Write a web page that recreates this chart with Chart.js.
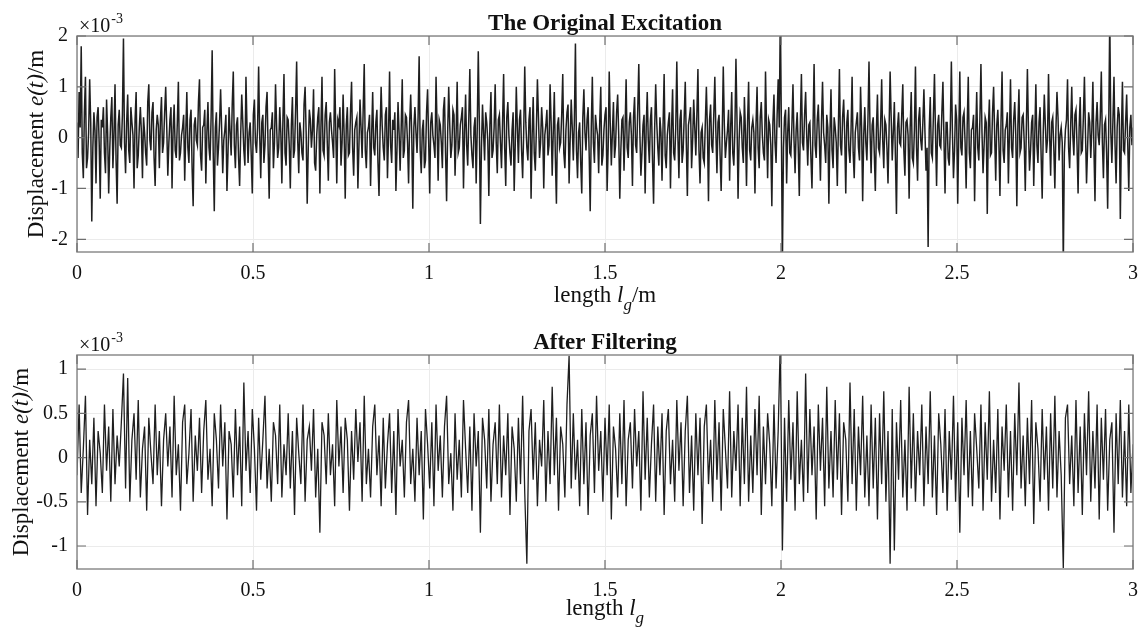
<!DOCTYPE html>
<html>
<head>
<meta charset="utf-8">
<script src="https://cdn.jsdelivr.net/npm/chart.js@4.4.0/dist/chart.umd.min.js"></script>
<style>
html, body { margin: 0; padding: 0; background: #fff; }
#wrap { position: relative; width: 1148px; height: 639px; }
#c1 { position: absolute; left: 0; top: 0; }
#c2 { position: absolute; left: 0; top: 310px; }
</style>
</head>
<body>
<div id="wrap">
  <canvas id="c1" width="1148" height="326"></canvas>
  <canvas id="c2" width="1148" height="329"></canvas>
</div>
<script>
// sample spacing along the track (m)
const STEP_ORIG = 0.003;
const STEP_FILT = 0.006;

const X_TICKS = [0, 0.5, 1, 1.5, 2, 2.5, 3];
const Y_TICKS_TOP = [-2, -1, 0, 1, 2];
const Y_TICKS_BOTTOM = [-1, -0.5, 0, 0.5, 1];

// displacement, x 1e-3 m
const ORIGINAL = [
  0.3, -0.4, 0.9, 0.2, 1.8, -0.3, -0.8, 0.5, 1.2, -0.6, -0.4, 0.1, 1.15, 0.3, -1.65, -0.2, 0.5, 0.15, -0.9, 0.4, 0.6, -0.1, -1.2, 0.35, 0.2, 0.6, -0.3, -0.7, 0.75, 0.1, -1.1, -0.25, 0.4, 0.8, -0.6, 0.05, 1.05, -0.45, -1.3, 0.25,
  0.55, -0.15, -0.2, 0.45, 1.95, -0.1, -0.7, 0.3, 0.85, -0.25, -0.5, 0.6, 0.3, 0.05, -1.0, 0.35, 0.9, -0.6, -0.35, 0.2, 0.6, 0.1, -0.8, 0.4, 0.1, -0.3, -0.55, 0.7, 1.05, -0.05, -0.25, 0.5, 0.7, -0.4, -0.95, 0.15, 0.45, 0.25, -0.6, 0.35,
  0.8, -0.3, -0.1, 0.5, 1.0, 0.2, -0.75, -0.1, 0.35, 0.6, -1.0, 0.15, 0.65, -0.25, -0.4, 0.3, 1.1, -0.45, -0.3, 0.05, 0.2, 0.45, -0.85, 0.1, 0.9, -0.2, -0.5, 0.35, 0.55, -0.6, -1.35, 0.25, 0.4, -0.05, -0.15, 0.7, 1.15, -0.35, -0.65, 0.2,
  0.25, 0.55, -0.9, 0.1, 0.7, -0.2, -0.45, 0.4, 1.72, -0.3, -1.45, 0.2, 0.5, -0.55, -0.2, 0.3, 0.95, 0.15, -0.7, -0.05, 0.15, 0.45, -1.05, -0.3, 0.6, 0.1, -0.35, 0.65, 1.3, -0.15, -0.6, 0.25, 0.4, -0.4, -0.95, 0.05, 0.85, 0.3, -0.25, -0.55,
  1.2, 0.2, -0.5, 0.1, 0.3, -0.35, -1.1, 0.45, 0.75, -0.1, -0.3, 0.2, 1.4, 0.05, -0.8, 0.3, 0.45, -0.5, -0.15, 0.6, 0.9, -0.25, -1.2, 0.15, 0.2, 0.5, -0.6, -0.1, 1.05, 0.25, -0.4, -0.2, 0.6, 0.1, -0.9, 0.35, 1.25, -0.3, -0.55, 0.4,
  0.35, -0.15, -1.0, 0.25, 0.8, -0.4, -0.25, 0.55, 1.5, -0.05, -0.7, 0.3, 0.1, -0.3, -0.45, 0.65, 1.0, 0.1, -1.3, -0.2, 0.55, 0.35, -0.2, 0.15, 0.95, -0.5, -0.65, 0.05, 0.4, 0.6, -1.1, 0.2, 1.2, -0.25, -0.35, 0.45, 0.7, -0.1, -0.85, 0.3,
  0.5, 0.15, -0.1, -0.4, 1.35, 0.2, -0.9, 0.35, 0.25, 0.6, -0.55, -0.1, 0.85, 0.05, -1.2, 0.25, 0.6, -0.35, -0.3, 0.5, 1.1, -0.2, -0.75, 0.15, 0.3, 0.4, -1.0, -0.15, 0.75, 0.2, -0.4, 0.55, 1.45, -0.25, -0.6, 0.1, 0.2, 0.45, -0.95, 0.05,
  0.9, -0.2, -0.35, 0.3, 0.55, -0.5, -1.15, 0.1, 1.0, 0.25, -0.2, -0.45, 0.45, 0.6, -0.8, 0.05, 1.3, -0.15, -0.5, 0.35, 0.15, 0.5, -1.05, -0.25, 0.7, 0.1, -0.65, 0.2, 1.15, -0.4, -0.25, 0.45, 0.4, -0.1, -0.9, 0.3, 0.85, 0.05, -1.4, 0.2,
  0.6, 0.1, -0.3, 0.4, 1.6, -0.25, -0.7, 0.15, 0.35, -0.6, -0.45, 0.5, 0.95, -0.05, -1.1, 0.3, 0.5, 0.05, -0.15, -0.4, 1.2, 0.2, -0.85, 0.35, 0.25, -0.1, -0.6, 0.55, 0.8, -0.3, -1.25, 0.1, 1.0, 0.25, -0.4, -0.15, 0.55, 0.45, -0.75, 0.05,
  1.1, -0.3, -0.2, 0.25, 0.4, 0.6, -1.0, 0.1, 0.85, -0.15, -0.55, 0.35, 1.35, 0.05, -0.35, -0.6, 0.2, 0.4, -0.9, 0.15, 1.7, 0.3, -1.7, -0.2, 0.65, 0.1, -0.45, 0.5, 0.3, -0.05, -1.15, 0.25, 0.9, -0.4, -0.25, 0.2, 1.05, -0.1, -0.7, 0.35,
  0.45, -0.1, -0.6, 0.3, 1.25, -0.2, -0.95, 0.4, 0.7, 0.05, -0.3, -0.55, 0.15, 0.5, -1.05, -0.15, 1.0, 0.2, -0.5, 0.35, 0.55, -0.25, -0.8, 0.1, 1.4, 0.3, -0.2, -0.45, 0.35, 0.6, -1.2, 0.05, 0.8, -0.3, -0.65, 0.15, 1.15, 0.4, -0.4, -0.1,
  0.6, 0.2, -1.0, 0.05, 0.25, 0.55, -0.35, -0.15, 1.05, 0.3, -0.75, 0.1, 0.9, -0.4, -1.3, 0.25, 0.4, -0.2, -0.1, 0.45, 1.25, -0.3, -0.6, 0.15, 0.5, 0.65, -0.9, -0.05, 0.75, 0.2, -0.45, 0.35, 1.85, -0.25, -0.8, 0.1, 0.3, -0.5, -1.1, 0.4,
  0.95, 0.1, -0.25, 0.35, 0.6, -0.3, -1.45, 0.2, 1.2, -0.1, -0.5, 0.45, 0.2, 0.05, -0.7, 0.3, 1.0, -0.55, -0.35, 0.15, 0.45, 0.6, -1.05, -0.2, 1.3, 0.25, -0.55, 0.1, 0.7, -0.4, -0.15, 0.5, 0.85, 0.05, -1.2, -0.25, 0.35, 0.4, -0.65, 0.15,
  1.15, -0.2, -0.4, 0.3, 0.5, 0.05, -0.95, 0.4, 0.8, -0.15, -0.3, 0.55, 1.45, 0.1, -0.75, -0.3, 0.25, 0.45, -1.1, 0.2, 0.9, -0.05, -0.5, 0.35, 0.6, -0.45, -1.3, 0.15, 1.05, 0.3, -0.2, -0.55, 0.4, 0.1, -0.85, 0.25, 1.25, -0.35, -0.6, 0.05,
  0.3, 0.5, -1.0, 0.15, 0.95, -0.3, -0.45, 0.2, 1.5, 0.05, -0.8, 0.35, 0.55, -0.5, -0.25, 0.4, 1.1, -0.1, -1.15, 0.25, 0.4, 0.6, -0.6, -0.05, 0.75, 0.2, -0.35, 0.45, 1.35, -0.25, -0.9, 0.1, 0.2, -0.4, -0.5, 0.3, 1.0, 0.15, -1.25, 0.35,
  0.65, -0.15, -0.3, 0.45, 1.2, 0.1, -0.7, 0.3, 0.45, -0.35, -1.05, 0.05, 1.4, 0.25, -0.4, -0.1, 0.15, 0.55, -0.85, 0.2, 0.9, -0.3, -0.55, 0.15, 1.55, 0.35, -1.2, -0.05, 0.5, 0.4, -0.2, -0.5, 0.8, 0.1, -0.95, 0.3, 1.1, -0.25, -0.45, 0.2,
  0.35, 0.1, -1.1, 0.25, 1.0, -0.2, -0.6, 0.4, 0.7, 0.05, -0.3, -0.45, 1.3, 0.2, -0.8, 0.35, 0.25, -0.15, -1.35, 0.3, 0.85, -0.1, -0.5, 0.45, 1.15, 0.2, 2.4, 0.3, -2.5, -0.2, 0.4, 0.55, -0.9, 0.1, 0.6, -0.3, -0.35, 0.25, 1.05, -0.05,
  -0.7, 0.15, 0.5, -0.2, -1.15, 0.3, 1.25, -0.1, -0.25, 0.45, 0.9, 0.05, -0.55, 0.25, 0.3, -0.4, -1.0, 0.2, 1.45, -0.15, -0.4, 0.35, 0.65, -0.05, -0.85, 0.3, 1.1, 0.1, -0.15, -0.5, 0.45, 0.2, -1.3, 0.05, 0.95, -0.25, -0.6, 0.4, 0.2, -0.1,
  -0.95, 0.2, 1.35, -0.15, -0.35, 0.4, 0.75, 0.05, -1.1, 0.3, 0.55, -0.25, -0.5, 0.15, 1.2, -0.3, -0.8, 0.1, 0.3, 0.5, -0.2, -0.45, 1.0, 0.2, -1.25, 0.05, 0.6, -0.1, -0.45, 0.35, 1.5, 0.1, -0.7, 0.25, 0.4, -0.3, -1.05, 0.15, 0.85, -0.2,
  -0.3, 0.25, 1.15, -0.05, -0.6, 0.35, 0.25, -0.2, -0.9, 0.15, 1.3, 0.4, -0.45, 0.1, 0.7, -0.35, -1.5, 0.2, 0.5, -0.1, -0.15, 0.45, 1.05, -0.25, -0.75, 0.3, 0.35, 0.05, -1.2, 0.2, 0.9, -0.4, -0.5, 0.15, 1.4, -0.2, -0.85, 0.35, 0.6, -0.05,
  -0.25, 0.3, 0.95, 0.1, -0.65, -0.2, -2.15, 0.15, 0.8, -0.3, -0.4, 0.45, 1.25, 0.05, -0.95, 0.25, 0.45, -0.15, -0.2, 0.5, 1.1, -0.05, -1.1, 0.3, 0.3, -0.4, -0.55, 0.2, 1.5, 0.1, -0.8, -0.25, 0.65, 0.35, -1.3, 0.05, 1.3, -0.2, -0.35, 0.4,
  0.5, -0.1, -1.0, 0.25, 1.2, -0.3, -0.6, 0.15, 0.2, 0.45, -1.25, 0.05, 0.9, -0.2, -0.45, 0.35, 1.45, 0.1, -0.7, -0.15, 0.4, 0.3, -1.5, 0.2, 0.75, -0.35, -0.3, 0.5, 1.0, 0.05, -0.85, 0.25, 0.55, -0.1, -1.15, 0.3, 1.3, -0.25, -0.5, 0.15,
  0.25, 0.5, -0.9, 0.1, 1.15, -0.2, -0.4, 0.35, 0.7, 0.05, -1.35, 0.25, 0.95, -0.3, -0.2, 0.4, 0.45, -0.1, -1.05, 0.2, 1.35, 0.15, -0.65, -0.25, 0.3, 0.45, -0.95, 0.05, 1.05, -0.15, -0.5, 0.3, 0.6, -0.35, -1.2, 0.1, 0.85, 0.25, -0.3, -0.05,
  1.25, 0.1, -0.75, 0.3, 0.4, -0.2, -1.0, 0.15, 0.9, 0.4, -0.45, 0.05, 0.2, -0.1, -2.5, -0.3, 0.15, 0.35, 1.15, -0.2, -0.6, 0.25, 1.0, 0.05, -0.35, 0.45, 0.55, -0.15, -1.1, 0.2, 0.8, -0.3, -0.25, 0.4, 1.2, 0.1, -0.9, -0.2, 0.5, 0.3,
  -0.4, 0.15, 1.1, -0.2, -1.25, 0.3, 0.7, 0.05, -0.15, 0.4, 1.3, -0.1, -0.8, 0.25, 0.35, -0.3, -1.4, 0.2, 2.4, 0.1, -0.5, 0.35, 1.2, -0.15, -0.9, 0.2, 0.6, 0.45, -1.6, 0.05, 1.1, -0.25, -0.3, 0.3, 0.85, -0.1, -1.05, 0.2, 0.45, -0.15, 0.2
];

const FILTERED = [
  -0.2, 0.6, -0.4, 0.1, 0.7, -0.65, 0.2, -0.3, 0.45, -0.55, 0.3, 0.05, -0.4, 0.6, -0.15, 0.35, -0.5, 0.55, -0.3, 0.25,
  -0.1, 0.4, 0.95, -0.35, 0.9, -0.5, 0.2, 0.5, -0.25, 0.65, -0.45, 0.1, 0.35, -0.6, 0.45, 0.05, -0.3, 0.6, -0.2, 0.3,
  -0.55, 0.2, 0.5, -0.1, 0.35, -0.45, 0.7, -0.2, 0.15, -0.6, 0.4, 0.6, -0.3, 0.05, 0.55, -0.5, 0.25, -0.15, 0.45, -0.4,
  0.3, 0.65, -0.25, 0.1, -0.55, 0.5, 0.2, -0.35, 0.6, -0.1, 0.4, -0.7, 0.3, 0.15, -0.45, 0.55, -0.2, 0.35, -0.55, 0.85,
  -0.15, 0.3, -0.4, 0.55, 0.1, -0.6, 0.45, -0.25, 0.2, 0.7, -0.35, 0.1, -0.5, 0.4, 0.25, -0.3, 0.6, -0.45, 0.15, -0.2,
  0.5, -0.35, 0.3, -0.65, 0.45, 0.05, -0.3, 0.6, -0.5, 0.2, 0.35, -0.15, 0.55, -0.45, 0.1, -0.85, 0.4, 0.25, -0.3, 0.5,
  -0.2, 0.15, -0.55, 0.65, -0.1, 0.35, -0.4, 0.45, 0.2, -0.6, 0.3, -0.25, 0.55, -0.05, 0.4, -0.5, 0.7, -0.3, 0.1, -0.45,
  0.35, 0.6, -0.2, 0.25, -0.55, 0.45, -0.35, 0.15, 0.5, -0.4, 0.3, -0.65, 0.55, -0.1, 0.2, -0.45, 0.4, 0.65, -0.3, 0.1,
  -0.5, 0.45, -0.2, 0.3, -0.7, 0.55, 0.15, -0.35, 0.4, -0.55, 0.6, -0.15, 0.25, -0.45, 0.35, 0.7, -0.3, 0.05, -0.6, 0.5,
  -0.25, 0.2, -0.45, 0.65, 0.1, -0.4, 0.35, -0.6, 0.5, -0.1, 0.3, -0.85, 0.45, 0.2, -0.35, 0.55, -0.5, 0.15, 0.4, -0.3,
  0.6, -0.45, 0.25, -0.2, 0.5, -0.65, 0.35, 0.1, -0.5, 0.45, -0.3, 0.7, -0.4, -1.2, 0.3, 0.55, -0.25, 0.4, -0.55, 0.2,
  -0.1, 0.65, -0.5, 0.3, -0.3, 0.8, -0.2, 0.45, -0.6, 0.35, 0.15, -0.45, 0.6, 1.15, -0.35, 0.5, -0.25, 0.2, -0.55, 0.55,
  -0.3, 0.4, -0.65, 0.25, 0.5, -0.4, 0.7, -0.15, 0.3, -0.5, 0.45, -0.2, 0.6, -0.7, 0.35, 0.1, -0.45, 0.5, -0.3, 0.65,
  -0.55, 0.2, 0.4, -0.35, 0.55, -0.1, 0.3, -0.6, 0.75, -0.25, 0.45, -0.45, 0.15, 0.6, -0.5, 0.35, -0.2, 0.5, -0.65, 0.3,
  0.55, -0.3, 0.2, -0.5, 0.65, -0.15, 0.4, -0.55, 0.3, 0.7, -0.4, 0.25, -0.6, 0.5, -0.2, 0.45, -0.75, 0.35, 0.6, -0.3,
  0.2, -0.5, 0.65, -0.25, 0.4, -0.6, 0.55, 0.1, -0.35, 0.75, -0.45, 0.3, -0.15, 0.6, -0.55, 0.45, -0.3, 0.8, -0.5, 0.25,
  -0.4, 0.55, -0.2, 0.7, -0.65, 0.35, -0.3, 0.5, 0.15, -0.55, 0.6, -0.35, 0.3, 1.3, -1.05, 0.45, -0.5, 0.65, -0.25, 0.4,
  -0.6, 0.75, -0.3, 0.2, -0.5, 0.95, -0.4, 0.55, -0.2, 0.35, -0.7, 0.6, -0.15, 0.45, -0.55, 0.8, -0.35, 0.3, -0.45, 0.65,
  -0.25, 0.5, -0.65, 0.4, 0.2, -0.5, 0.85, -0.3, 0.55, -0.6, 0.35, -0.2, 0.7, -0.45, 0.25, -0.55, 0.6, -0.35, 0.45, -0.7,
  0.5, -0.3, 0.75, -0.5, 0.3, -1.2, 0.55, -1.05, 0.4, -0.25, 0.65, -0.45, 0.2, -0.6, 0.8, -0.35, 0.5, -0.5, 0.3, -0.2,
  0.6, -0.55, 0.35, -0.3, 0.75, -0.45, 0.25, -0.65, 0.5, 0.15, -0.4, 0.55, -0.6, 0.3, -0.25, 0.7, -0.5, 0.4, -0.85, 0.45,
  -0.2, 0.65, -0.45, 0.3, -0.55, 0.5, 0.1, -0.35, 0.6, -0.6, 0.4, -0.25, 0.75, -0.5, 0.2, -0.4, 0.55, -0.7, 0.35, -0.15,
  0.6, -0.45, 0.3, -0.6, 0.5, -0.2, 0.85, -0.35, 0.25, -0.55, 0.45, -0.3, 0.65, -0.75, 0.4, 0.1, -0.5, 0.55, -0.25, 0.35,
  -0.6, 0.5, -0.35, 0.7, -0.45, 0.3, -0.2, -1.25, 0.45, 0.6, -0.3, 0.25, -0.55, 0.65, -0.4, 0.35, -0.65, 0.5, -0.2, 0.75,
  -0.5, 0.3, -0.35, 0.6, -0.7, 0.45, -0.25, 0.55, -0.6, 0.2, 0.4, -0.85, 0.5, -0.3, 0.65, -0.45, 0.3, -0.55, 0.6, -0.4, 0.15
];

const SERIF = '"Liberation Serif", "Times New Roman", serif';

// draws a run of text pieces [text, font, dy] centred on cx
function drawRich(ctx, parts, cx, cy) {
  let w = 0;
  parts.forEach(p => { ctx.font = p[1]; w += ctx.measureText(p[0]).width; });
  let x = cx - w / 2;
  ctx.textAlign = 'left';
  parts.forEach(p => {
    ctx.font = p[1];
    ctx.fillText(p[0], x, cy + (p[2] || 0));
    x += ctx.measureText(p[0]).width;
  });
}

// matlab style box, inward ticks, titles and labels
const axesDeco = {
  id: 'axesDeco',
  afterDraw(chart, args, opts) {
    const { ctx, chartArea: a, scales } = chart;
    ctx.save();
    ctx.strokeStyle = '#8c8c8c';
    ctx.lineWidth = 1.5;
    ctx.strokeRect(a.left, a.top, a.right - a.left, a.bottom - a.top);

    ctx.strokeStyle = '#6e6e6e';
    ctx.lineWidth = 1.2;
    const L = 9;
    ctx.beginPath();
    scales.x.ticks.forEach(t => {
      const px = scales.x.getPixelForValue(t.value);
      ctx.moveTo(px, a.bottom); ctx.lineTo(px, a.bottom - L);
      ctx.moveTo(px, a.top); ctx.lineTo(px, a.top + L);
    });
    scales.y.ticks.forEach(t => {
      const py = scales.y.getPixelForValue(t.value);
      ctx.moveTo(a.left, py); ctx.lineTo(a.left + L, py);
      ctx.moveTo(a.right, py); ctx.lineTo(a.right - L, py);
    });
    ctx.stroke();

    ctx.fillStyle = '#111';
    ctx.textBaseline = 'alphabetic';
    ctx.textAlign = 'center';
    ctx.font = 'bold 23px ' + SERIF;
    ctx.fillText(opts.title, (a.left + a.right) / 2, a.top - 6);

    // exponent
    ctx.textAlign = 'left';
    ctx.font = '20px ' + SERIF;
    ctx.fillText('\u00d710', a.left + 2, a.top - 4);
    const w10 = ctx.measureText('\u00d710').width;
    ctx.font = '14px ' + SERIF;
    ctx.fillText('-3', a.left + 2 + w10 + 1, a.top - 13);

    const norm = '23px ' + SERIF, ital = 'italic 23px ' + SERIF, sub = 'italic 17px ' + SERIF;
    const xl = [['length ', norm], ['l', ital], ['g', sub, 8]];
    if (opts.unit) xl.push(['/m', norm]);
    drawRich(ctx, xl, (a.left + a.right) / 2, a.bottom + opts.xlabelDy);

    ctx.save();
    ctx.translate(opts.ylabelX, (a.top + a.bottom) / 2);
    ctx.rotate(-Math.PI / 2);
    ctx.textBaseline = 'middle';
    drawRich(ctx, [['Displacement ', norm], ['e(t)', ital], ['/m', norm]], 0, 0);
    ctx.restore();
    ctx.restore();
  }
};

function makeChart(id, values, step, lineW, yTicks, yMin, yMax, axisH, padTop, deco) {
  const pts = values.map((v, i) => ({ x: i * step, y: v }));
  return new Chart(document.getElementById(id), {
    type: 'line',
    data: {
      datasets: [{
        data: pts,
        borderColor: 'rgba(0,0,0,0.88)',
        borderWidth: lineW,
        pointRadius: 0,
        tension: 0
      }]
    },
    options: {
      responsive: false,
      animation: false,
      events: [],
      layout: { padding: { left: 0, right: 8, top: padTop, bottom: 0 } },
      plugins: { legend: { display: false }, tooltip: { enabled: false }, axesDeco: deco },
      scales: {
        x: {
          type: 'linear', min: 0, max: 3,
          afterBuildTicks: s => { s.ticks = X_TICKS.map(v => ({ value: v })); },
          afterFit: s => { s.height = axisH; },
          grid: { color: '#ebebeb', drawTicks: false },
          border: { display: false },
          ticks: { padding: 10, maxRotation: 0, color: '#111', font: { family: SERIF, size: 20 }, callback: v => String(v) }
        },
        y: {
          min: yMin, max: yMax,
          afterBuildTicks: s => { s.ticks = yTicks.map(v => ({ value: v })); },
          afterFit: s => { s.width = 77; },
          grid: { color: '#ebebeb', drawTicks: false },
          border: { display: false },
          ticks: { padding: 9, color: '#111', font: { family: SERIF, size: 20 }, callback: v => String(v) }
        }
      }
    },
    plugins: [axesDeco]
  });
}

makeChart('c1', ORIGINAL, STEP_ORIG, 1.5, Y_TICKS_TOP, -2.25, 2, 74, 36,
  { title: 'The Original Excitation', unit: true, xlabelDy: 50, ylabelX: 37 });
makeChart('c2', FILTERED, STEP_FILT, 1.3, Y_TICKS_BOTTOM, -1.26, 1.16, 70, 45,
  { title: 'After Filtering', unit: false, xlabelDy: 46, ylabelX: 22 });
</script>
</body>
</html>
